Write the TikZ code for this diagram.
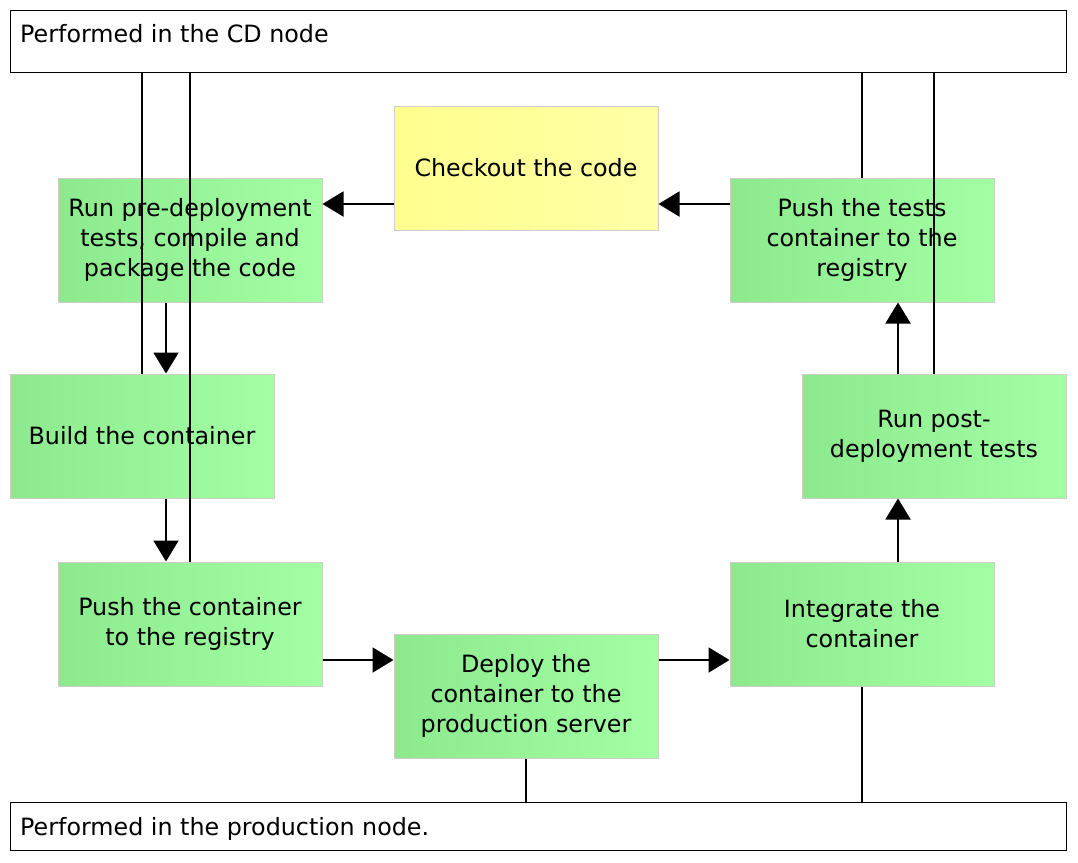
\documentclass[tikz,border=0pt]{standalone}
\usepackage{fontspec}
\setmainfont{DejaVu Sans}
\usetikzlibrary{arrows.meta,calc}
\definecolor{gleft}{HTML}{8DE98D}
\definecolor{gright}{HTML}{A3FFA3}
\definecolor{yleft}{HTML}{FFFF8E}
\definecolor{yright}{HTML}{FFFFA6}
\definecolor{bordergray}{HTML}{CCCCCC}
\begin{document}
\begin{tikzpicture}[x=1pt,y=-1pt,
  every node/.style={font=\fontsize{23.8}{30}\selectfont, text=black},
  stepbox/.style={draw=bordergray, line width=1pt, minimum width=264pt, minimum height=124pt,
    align=center, inner sep=0pt, left color=gleft, right color=gright},
  yellowbox/.style={stepbox, left color=yleft, right color=yright},
  band/.style={draw=black, line width=1pt, fill=white, anchor=north west, inner sep=0pt},
  bandtext/.style={anchor=base west, inner sep=0pt},
  conn/.style={draw=black, line width=2pt},
  arr/.style={conn, -{Triangle[length=21pt,width=25pt]}}
]
\useasboundingbox (0,0) rectangle (1078,862);

% bands
\node[band, minimum width=1056pt, minimum height=62pt] (topbox) at (10,10) {};
\node[bandtext] (toptext) at (20,42.5) {Performed in the CD node};
\node[band, minimum width=1056pt, minimum height=48pt] (botbox) at (10,802) {};
\node[bandtext] (bottext) at (20,835) {Performed in the production node.};

% steps
\node[yellowbox] (check) at (526,168) {Checkout the code};
\node[stepbox] (pre) at (190,240) {Run pre-deployment\\tests, compile and\\package the code};
\node[stepbox] (tests) at (862,240) {Push the tests\\container to the\\registry};
\node[stepbox] (build) at (142,436) {Build the container};
\node[stepbox] (post) at (934,436) {Run post-\\deployment tests};
\node[stepbox] (push) at (190,624) {Push the container\\to the registry};
\node[stepbox] (deploy) at (526,696) {Deploy the\\container to the\\production server};
\node[stepbox] (integ) at (862,624) {Integrate the\\container};

% lines to bands
\draw[conn] (build.north |- topbox.south) -- (build.north);
\draw[conn] (push.north |- topbox.south) -- (push.north);
\draw[conn] (tests.north |- topbox.south) -- (tests.north);
\draw[conn] (post.north |- topbox.south) -- (post.north);
\draw[conn] (deploy.south) -- (deploy.south |- botbox.north);
\draw[conn] (integ.south) -- (integ.south |- botbox.north);

% arrows
\coordinate (c1) at ($(check.west)+(0,36)$);
\draw[arr] (c1) -- (c1 -| pre.east);
\coordinate (c2) at ($(tests.west)+(0,-36)$);
\draw[arr] (c2) -- (c2 -| check.east);
\coordinate (c3) at ($(pre.south)+(-24,0)$);
\draw[arr] (c3) -- (c3 |- build.north);
\coordinate (c4) at ($(build.south)+(24,0)$);
\draw[arr] (c4) -- (c4 |- push.north);
\coordinate (c5) at ($(push.east)+(0,36)$);
\draw[arr] (c5) -- (c5 -| deploy.west);
\coordinate (c6) at ($(deploy.east)+(0,-36)$);
\draw[arr] (c6) -- (c6 -| integ.west);
\coordinate (c7) at ($(integ.north)+(36,0)$);
\draw[arr] (c7) -- (c7 |- post.south);
\coordinate (c8) at ($(post.north)+(-36,0)$);
\draw[arr] (c8) -- (c8 |- tests.south);
\end{tikzpicture}
\end{document}
